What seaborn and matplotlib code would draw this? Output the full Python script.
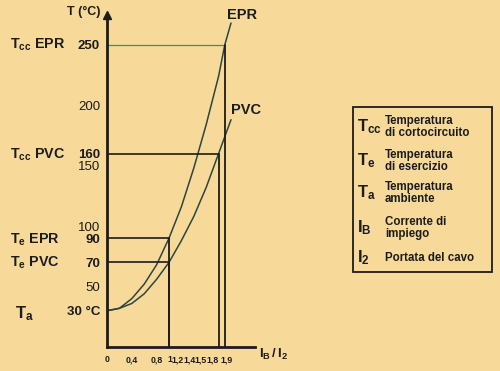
import numpy as np
import pandas as pd
import matplotlib
matplotlib.use("Agg")
import matplotlib.pyplot as plt
import matplotlib.transforms as mtransforms
import seaborn as sns

# current ratio Ib/Iz and temperature
ratio = [0, 0.2, 0.4, 0.6, 0.8, 1.0, 1.2, 1.4, 1.6, 1.8, 1.9, 2.0]
temp_epr = [30, 32, 40, 52, 68, 90, 116, 148, 184, 224, 250, 268]
temp_pvc = [30, 32, 36, 44, 56, 70, 88, 108, 132, 160, 174, 188]

y_ticks = [30, 50, 70, 90, 100, 150, 160, 200, 250]
y_labels = ["30 °C", "50", "70", "90", "100", "150", "160", "200", "250"]
x_ticks = [0, 0.4, 0.8, 1, 1.2, 1.4, 1.5, 1.8, 1.9]
x_labels = ["0", "0,4", "0,8", "1", "1,2", "1,4", "1,5", "1,8", "1,9"]

# reference levels: (ratio, temperature)
ref_levels = [(1.9, 250), (1.8, 160), (1.0, 90), (1.0, 70)]

legend_items = [
    (r"$\mathbf{T_{cc}}$", "Temperatura\ndi cortocircuito"),
    (r"$\mathbf{T_e}$", "Temperatura\ndi esercizio"),
    (r"$\mathbf{T_a}$", "Temperatura\nambiente"),
    (r"$\mathbf{I_B}$", "Corrente di\nimpiego"),
    (r"$\mathbf{I_2}$", "Portata del cavo"),
]

sns.set_style("white")
plt.rcParams['font.family'] = ['Liberation Sans', 'DejaVu Sans']
plt.rcParams['mathtext.fontset'] = 'custom'
plt.rcParams['mathtext.rm'] = 'Liberation Sans'
plt.rcParams['mathtext.bf'] = 'Liberation Sans:bold'
plt.rcParams['mathtext.it'] = 'Liberation Sans:italic'

bg = "#F7D99A"
ink = "#1c1c1c"
curve = "#2b4640"

fig = plt.figure(figsize=(5, 3.71), dpi=100, facecolor=bg)
W, H = 500, 371
x0, y0 = 107, 347
xmax, ymax = 2.38, 275
ax = fig.add_axes([x0 / W, (H - y0) / H, xmax * 62 / W, ymax * 1.209 / H])
ax.set_facecolor(bg)

df = pd.DataFrame({"ratio": ratio * 2,
                   "temp": temp_epr + temp_pvc,
                   "cable": ["EPR"] * len(ratio) + ["PVC"] * len(ratio)})
sns.lineplot(data=df, x="ratio", y="temp", units="cable", estimator=None,
             color=curve, lw=1.1, ax=ax, legend=False)

for i, (xr, t) in enumerate(ref_levels):
    c = "#3f8a7a" if i == 0 else ink
    ax.plot([0, xr], [t, t], color=c, lw=1.2 if i else 0.9)
    ax.plot([xr, xr], [0, t], color=ink, lw=1.3)

ax.set_xlim(0, xmax)
ax.set_ylim(0, ymax)
for s in ["top", "right"]:
    ax.spines[s].set_visible(False)
for s in ["left", "bottom"]:
    ax.spines[s].set_color(ink)
    ax.spines[s].set_linewidth(2)
ax.plot([0], [ymax], marker="^", color=ink, ms=6, clip_on=False)

ax.set_yticks(y_ticks)
ax.set_yticklabels(y_labels)
ax.set_xticks(x_ticks)
ax.set_xticklabels(x_labels)
ax.tick_params(axis="y", length=3, width=1, color=ink, pad=2, labelsize=9.5, labelcolor=ink)
ax.tick_params(axis="x", length=3, width=1, color=ink, pad=3, labelsize=6.3, labelcolor=ink)
for lab in ax.get_yticklabels():
    if lab.get_text() in ("250", "160", "90", "70", "30 °C"):
        lab.set_fontweight("bold")
# nudge the crowded labels apart (pixels)
shifts = {"1": 1, "1,2": -3.5, "1,4": -4.5, "1,5": 1, "1,8": -5.5, "1,9": 1.5}
for lab in ax.get_xticklabels():
    lab.set_fontweight("bold")
    dx = shifts.get(lab.get_text(), 0)
    if dx:
        lab.set_transform(lab.get_transform() +
                          mtransforms.ScaledTranslation(dx / 100, 0, fig.dpi_scale_trans))
ax.set_xlabel("")
ax.set_ylabel("")


def ftext(px, py, s, **kw):
    fig.text(px / W, 1 - py / H, s, color=ink, **kw)


ftext(84, 12, "T (°C)", fontsize=9, fontweight="bold", ha="center", va="center")
ftext(242, 15, "EPR", fontsize=10.5, fontweight="bold", ha="center", va="center")
ftext(246, 110, "PVC", fontsize=10.5, fontweight="bold", ha="center", va="center")
ftext(273, 354, r"$\mathbf{I_B\,/\,I_2}$", fontsize=9.5, ha="center", va="center")

ftext(10, 45, r"$\mathbf{T_{cc}}$ EPR", fontsize=10.3, fontweight="bold", va="center")
ftext(10, 155, r"$\mathbf{T_{cc}}$ PVC", fontsize=10.3, fontweight="bold", va="center")
ftext(10, 240, r"$\mathbf{T_e}$ EPR", fontsize=10.3, fontweight="bold", va="center")
ftext(10, 263, r"$\mathbf{T_e}$ PVC", fontsize=10.3, fontweight="bold", va="center")
ftext(15, 314, r"$\mathbf{T_a}$", fontsize=12, va="center")

# legend box on the right
box = plt.Rectangle((353 / W, 1 - 272 / H), 139 / W, 165 / H, transform=fig.transFigure,
                    fill=False, edgecolor=ink, lw=1.3)
fig.add_artist(box)
rows_y = [127, 161, 193, 228, 258]
for (sym, desc), py in zip(legend_items, rows_y):
    ftext(357, py, sym, fontsize=12, va="center")
    ftext(385, py, desc, fontsize=8.3, fontweight="bold", va="center", linespacing=0.95)

fig.savefig("out.png", dpi=100, facecolor=bg)
